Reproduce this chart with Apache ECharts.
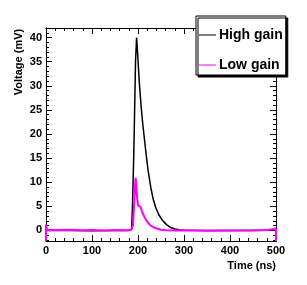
<!DOCTYPE html>
<html><head><meta charset="utf-8">
<script src="https://cdn.jsdelivr.net/npm/echarts@6/dist/echarts.min.js"></script>
<style>html,body{margin:0;padding:0;background:#fff}#c{width:307px;height:285px}</style>
</head><body><div id="c"></div>
<script>
// Data
const seriesNames = ['High gain', 'Low gain'];
const highTime = [0,50,100,150,180,186,188,191,194.7,197,199,200,203,207,211,214.5,218,222,228,233,238.5,245,253,262,271,280,290,300,350,400,450,490,500];
const highVolt = [0,0,-0.05,0,0,0.2,5,16.6,35.3,40,37,35.3,30.5,25.5,21.5,18.5,15.5,12.4,8.8,6.5,4.75,3.3,2.1,1.2,0.6,0.3,0.12,0.05,0,0,0,0.05,0.1];
const lowTime = [0,0,2,20,50,80,100,130,150,170,185,189,192,194,195,196,198,200,203,205.7,209,214,220,227.6,235,242,250,260,280,300,350,400,450,480,495,500,500];
const lowVolt = [-2.2,1.2,0.15,0.1,0.15,0.05,0.1,0.0,0.1,0.05,0.1,1.0,6,10,10.9,10.5,7,5.2,4.9,4.85,3.8,2.8,1.8,1.0,0.6,0.35,0.15,0.05,0.0,0.05,-0.05,0.0,0.05,0.1,0.3,0.4,-2.2];
const xTicks = [0,100,200,300,400,500];
const yTicks = [0,5,10,15,20,25,30,35,40];
const yMinorTicks = [-2,-1,0,1,2,3,4,5,6,7,8,9,10,11,12,13,14,15,16,17,18,19,20,21,22,23,24,25,26,27,28,29,30,31,32,33,34,35,36,37,38,39,40,41];
const xTitle = 'Time (ns)';
const yTitle = 'Voltage (mV)';

const FONT = 'Liberation Sans';
const zip = (a, b) => a.map((v, i) => [v, b[i]]);
const chart = echarts.init(document.getElementById('c'), null, {renderer: 'canvas'});
const lineStyle = {color: '#000', width: 1};
const yBase = {type: 'value', min: -2.2, max: 42, splitLine: {show: false}, axisLine: {show: true, onZero: false, lineStyle}};
chart.setOption({
  animation: false,
  grid: {left: 46, right: 31, top: 28, bottom: 44},
  xAxis: [
    {type: 'value', min: xTicks[0], max: xTicks[xTicks.length - 1], interval: 100, position: 'bottom',
     axisLine: {show: true, onZero: false, lineStyle}, splitLine: {show: false},
     axisTick: {show: true, inside: true, length: 6, lineStyle},
     minorTick: {show: true, splitNumber: 5, length: 3, lineStyle},
     axisLabel: {show: true, margin: 4, color: '#000', fontFamily: FONT, fontWeight: 'bold', fontSize: 11}},
    {type: 'value', min: xTicks[0], max: xTicks[xTicks.length - 1], interval: 100, position: 'top',
     axisLine: {show: true, onZero: false, lineStyle}, splitLine: {show: false},
     axisTick: {show: true, inside: true, length: 6, lineStyle},
     minorTick: {show: true, splitNumber: 5, length: 3, lineStyle},
     axisLabel: {show: false}}
  ],
  yAxis: [
    Object.assign({}, yBase, {position: 'left',
      axisTick: {show: true, inside: true, length: 6, customValues: yTicks, lineStyle},
      axisLabel: {show: true, customValues: yTicks, margin: 4, color: '#000', fontFamily: FONT, fontWeight: 'bold', fontSize: 11}}),
    Object.assign({}, yBase, {position: 'left',
      axisTick: {show: true, inside: true, length: 3, customValues: yMinorTicks, lineStyle},
      axisLabel: {show: false}}),
    Object.assign({}, yBase, {position: 'right',
      axisTick: {show: true, inside: true, length: 6, customValues: yTicks, lineStyle},
      axisLabel: {show: false}}),
    Object.assign({}, yBase, {position: 'right',
      axisTick: {show: true, inside: true, length: 3, customValues: yMinorTicks, lineStyle},
      axisLabel: {show: false}})
  ],
  legend: {
    orient: 'vertical', left: 196, top: 16,
    padding: [12, 3, 3, 3], itemGap: 16, itemWidth: 17, itemHeight: 1,
    icon: 'rect',
    backgroundColor: '#fff', borderColor: '#000', borderWidth: 1,
    shadowColor: '#000', shadowOffsetX: 2, shadowOffsetY: 2, shadowBlur: 0,
    textStyle: {color: '#000', fontFamily: FONT, fontWeight: 'bold', fontSize: 14, padding: [0,0,0,-2]},
    data: seriesNames
  },
  graphic: [
    {type: 'text', x: 19, y: 62, rotation: Math.PI / 2,
     style: {text: yTitle, fill: '#000', font: 'bold 11px "' + FONT + '"', align: 'center', verticalAlign: 'middle'}},
    {type: 'text', x: 276, y: 266,
     style: {text: xTitle, fill: '#000', font: 'bold 11px "' + FONT + '"', align: 'right', verticalAlign: 'middle'}}
  ],
  series: [
    {name: seriesNames[0], type: 'line', xAxisIndex: 0, yAxisIndex: 0, data: zip(highTime, highVolt),
     showSymbol: false, smooth: false, color: '#000', lineStyle: {color: '#000', width: 1.5}, clip: true},
    {name: seriesNames[1], type: 'line', xAxisIndex: 0, yAxisIndex: 0, data: zip(lowTime, lowVolt),
     showSymbol: false, smooth: false, color: '#ff00ff', lineStyle: {color: '#ff00ff', width: 2}, clip: true}
  ]
});
</script></body></html>
